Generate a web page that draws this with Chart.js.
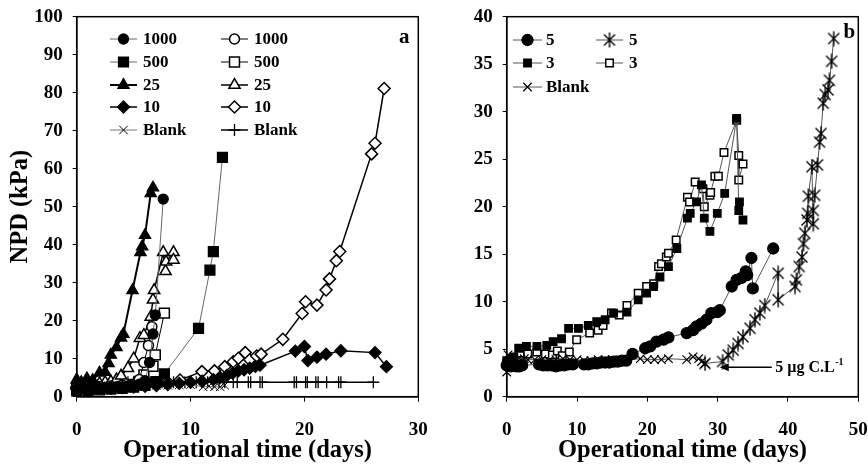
<!DOCTYPE html>
<html>
<head>
<meta charset="utf-8">
<script src="https://cdn.jsdelivr.net/npm/chart.js@4.4.1/dist/chart.umd.min.js"></script>
<style>
html, body { margin: 0; padding: 0; background: #fff; overflow: hidden; }
#wrap { position: relative; width: 868px; height: 464px; overflow: hidden; }
canvas { position: absolute; top: -10px; }
#chartA { left: 0; }
#chartB { left: 434px; }
</style>
</head>
<body>
<div id="wrap">
  <canvas id="chartA" width="434" height="474"></canvas>
  <canvas id="chartB" width="434" height="474"></canvas>
</div>
<script>
// ---- panel a ----
const c1000fDays = [0, 0.5, 1, 1.5, 2, 2.5, 3, 3.5, 4, 4.5, 5, 5.5, 6, 6.4, 6.7, 6.9, 7.6];
const c1000fVals = [2.0, 2.2, 2.0, 2.3, 2.2, 2.5, 2.4, 2.6, 2.6, 2.8, 3.0, 3.3, 4.2, 9, 16.5, 21.5, 52];
const c1000oDays = [0, 1, 2, 3, 4, 5, 5.5, 5.9, 6.3, 6.6];
const c1000oVals = [2.5, 2.6, 2.7, 2.8, 3.0, 3.3, 4.5, 9, 13.5, 18.4];
const s500fDays = [0, 1, 2, 3, 4, 5, 6, 7, 7.7, 10.7, 11.7, 12.0, 12.8];
const s500fVals = [1.5, 1.6, 1.8, 2.0, 2.2, 2.5, 3.0, 4.0, 6.0, 18, 33.3, 38.2, 63];
const s500oDays = [0, 1, 2, 3, 4, 5, 5.5, 5.9, 6.7, 6.9, 7.7];
const s500oVals = [2.0, 2.1, 2.3, 2.4, 2.7, 3.2, 4.0, 5.7, 8, 11, 22];
const t25fDays = [0, 0.4, 0.9, 1.4, 2.0, 2.5, 2.8, 3.0, 3.5, 3.9, 4.1, 4.9, 5.6, 5.75, 6.0, 6.5, 6.7];
const t25fVals = [4.5, 3.8, 4.8, 4.3, 6.3, 6.5, 8.8, 11, 13, 15.5, 16.5, 28, 38, 39.5, 42.5, 53.5, 55];
const t25oDays = [0, 0.5, 1, 1.5, 2, 2.5, 3, 3.5, 3.9, 4.5, 5.0, 5.55, 5.9, 6.5, 6.7, 6.8, 7.6, 7.8, 7.85, 8.5, 8.5];
const t25oVals = [3.0, 3.2, 3.0, 3.4, 3.5, 3.8, 4.0, 4.5, 5.5, 7.5, 10, 15.4, 16.2, 21, 25.5, 28, 38, 33, 35.5, 38, 36];
const d10fDays = [0, 1, 2, 3, 4, 5, 6, 7, 8, 9, 10, 11, 12, 12.6, 13.2, 13.7, 14.2, 14.7, 15.2, 15.7, 16.1, 19.2, 20.0, 20.3, 21.1, 21.9, 23.2, 26.2, 27.2];
const d10fVals = [2.0, 2.1, 2.2, 2.3, 2.4, 2.5, 2.7, 2.9, 3.2, 3.5, 3.8, 4.1, 4.5, 5.0, 5.6, 6.2, 6.8, 7.1, 7.5, 8.0, 8.3, 12, 13.2, 9.5, 10.4, 11.2, 12.1, 11.6, 7.9];
const d10oDays = [0, 1, 2, 3, 4, 5, 6, 7, 8, 9.07, 11, 12.1, 13.0, 13.75, 14.2, 14.8, 15.2, 15.8, 16.2, 18.1, 19.8, 20.1, 21.1, 21.9, 22.2, 22.8, 23.1, 25.9, 26.2, 27.0];
const d10oVals = [2.5, 2.6, 2.7, 2.8, 3.0, 3.1, 3.3, 3.5, 3.8, 4.4, 6.6, 6.8, 7.9, 9.2, 10.1, 11.6, 9.7, 10.7, 11.2, 15.1, 21.9, 25, 24.1, 28.1, 31, 35.8, 38.2, 63.9, 66.7, 81.1];
const blankXaDays = [0, 1, 2, 3, 4, 5, 6, 7, 8, 9, 10, 11.1, 11.6, 12.1, 12.6, 13];
const blankXaVals = [3.0, 2.8, 2.7, 2.8, 2.8, 2.9, 2.9, 3.0, 3.0, 3.1, 3.2, 2.6, 2.8, 2.6, 2.6, 3.0];
const blankPaDays = [0, 0.5, 1, 1.5, 2, 2.5, 3, 3.5, 4, 4.5, 5, 5.5, 6, 6.5, 7, 7.5, 8, 8.5, 9, 9.5, 10, 10.5, 11, 11.5, 12, 12.5, 13, 13.75, 14.1, 15.07, 15.28, 16.1, 16.3, 19.1, 19.3, 20.1, 20.25, 21.0, 21.2, 21.95, 23.0, 23.2, 26.05];
const blankPaVals = [3.5, 3.5, 3.6, 3.6, 3.6, 3.7, 3.7, 3.7, 3.7, 3.8, 3.8, 3.8, 3.8, 3.8, 3.8, 3.8, 3.8, 3.8, 3.8, 3.8, 3.8, 3.8, 3.8, 3.8, 3.8, 3.8, 3.8, 3.8, 3.8, 3.8, 3.8, 3.8, 3.8, 3.8, 3.8, 3.8, 3.8, 3.8, 3.8, 3.8, 3.8, 3.8, 3.8];

// ---- panel b ----
const c5fDays = [0, 0.3, 0.6, 1, 1.4, 1.8, 2.2, 4.6, 5.2, 5.8, 6.4, 7, 7.6, 8.2, 8.8, 9.4, 11, 11.6, 12.2, 12.8, 13.4, 14, 14.6, 15.2, 15.8, 16.4, 17, 17.9, 19.7, 20.4, 21.3, 22.3, 23, 25.6, 26.5, 27, 27.7, 28.4, 29.1, 29.95, 30.3, 32, 32.7, 33.4, 34, 34.2, 34.8, 35, 37.9];
const c5fVals = [3.3, 3.5, 3.2, 3.3, 3.2, 3.2, 3.3, 3.4, 3.3, 3.3, 3.3, 3.2, 3.3, 3.3, 3.4, 3.4, 3.4, 3.4, 3.5, 3.5, 3.6, 3.6, 3.6, 3.7, 3.7, 3.8, 3.8, 4.5, 5.1, 5.3, 5.8, 6.0, 6.25, 6.7, 7.0, 7.4, 7.7, 8.1, 8.8, 8.9, 9.1, 11.6, 12.3, 12.5, 13.2, 12.8, 14.6, 11.4, 15.6];
const s3fDays = [0, 0.5, 1, 1.7, 2.8, 4.3, 5.7, 6.6, 7.8, 8.8, 10.2, 11.6, 12.8, 14, 15.2, 17.1, 18.7, 19.9, 20.9, 21.8, 23, 24.2, 25.7, 26.1, 27, 27.7, 28.1, 28.9, 29.95, 31, 32.7, 33, 33.1, 33.6];
const s3fVals = [3.8, 4.0, 4.2, 5.1, 5.3, 5.3, 5.4, 5.8, 6.1, 7.2, 7.2, 7.5, 7.9, 8.1, 8.8, 8.9, 10.2, 10.9, 11.6, 12.6, 13.7, 15.6, 18.8, 19.3, 20.5, 22.3, 18.8, 17.4, 19.3, 21.4, 29.3, 19.6, 20.5, 18.6];
const s3oDays = [0, 0.5, 1, 1.9, 3, 4.3, 5.5, 6.5, 7.2, 7.9, 8.9, 9.95, 11.8, 13, 13.7, 14.9, 16, 17.1, 18.7, 19.9, 20.9, 21.6, 22, 22.7, 23, 24.1, 25.7, 26, 26.8, 27.9, 28.1, 28.9, 29, 29.6, 30.1, 30.9, 32.7, 33, 33, 33.6];
const s3oVals = [3.5, 3.7, 4.0, 4.6, 4.5, 4.7, 4.5, 4.4, 4.8, 4.3, 4.7, 6.0, 6.7, 7.0, 7.5, 8.8, 8.6, 9.6, 10.9, 11.6, 11.9, 13.7, 14.0, 14.7, 15.1, 16.5, 21, 20.5, 22.6, 21.9, 20, 21.2, 21.5, 23.2, 23.2, 25.7, 29.1, 25.4, 22.8, 24.5];
const blankXbDays = [0, 0.2, 0.6, 1, 1.5, 2, 2.5, 3, 4, 5, 6, 7, 8, 9, 10, 11, 12, 13, 14, 15, 16, 17, 19, 20, 21, 22, 23, 25.6, 26.5, 27.3, 27.7, 28.2];
const blankXbVals = [2.6, 4.4, 3.9, 4.0, 3.8, 3.9, 4.0, 3.9, 3.9, 3.9, 3.8, 3.9, 4.0, 3.9, 3.9, 3.8, 3.8, 3.9, 3.9, 3.9, 3.8, 3.9, 4.0, 3.9, 3.9, 3.9, 4.0, 3.9, 4.2, 4.0, 3.7, 3.5];
const star5Days = [28.2, 30.7, 31.5, 32.2, 32.9, 33.6, 34.6, 35.3, 36, 36.7, 38.6, 38.6, 41, 41.2, 41.6, 42, 42.2, 42.4, 42.7, 42.8, 42.9, 43.4, 43.6, 43.6, 43.8, 44.2, 44.5, 44.7, 45, 45.3, 45.7, 45.9, 46.2, 46.5];
const star5Vals = [3.5, 3.7, 4.4, 4.9, 5.6, 6.3, 7.2, 8.1, 8.8, 9.6, 13, 10.2, 11.6, 12.3, 13.7, 14.7, 16.1, 17.2, 18.6, 19.3, 21.1, 24.2, 18.2, 19.6, 21.2, 24.4, 26.8, 27.7, 30.9, 31.8, 32.3, 33.3, 35.3, 37.7];

// annotation arrow in panel b (days, kPa)
const arrowTip = [30.3, 3.1];
const arrowTailDay = 37.7;
const noteDay = 38.2;

const serif = '"Liberation Serif", "Times New Roman", serif';

function pts(days, vals) {
    return days.map((d, i) => ({ x: d, y: vals[i] }));
}

// asterisk marker: an X with a vertical bar
const asterisk = document.createElement('canvas');
asterisk.width = 16; asterisk.height = 16;
(function () {
    const g = asterisk.getContext('2d');
    g.strokeStyle = '#000';
    g.lineWidth = 1.4;
    g.beginPath();
    g.moveTo(2.5, 2.5); g.lineTo(13.5, 13.5);
    g.moveTo(13.5, 2.5); g.lineTo(2.5, 13.5);
    g.moveTo(8, 0.5); g.lineTo(8, 15.5);
    g.stroke();
})();

function series(label, days, vals, style) {
    return Object.assign({
        label: label,
        data: pts(days, vals),
        showLine: true,
        fill: false,
        tension: 0,
        clip: false,
        borderColor: '#000',
        borderWidth: 1,
        pointBorderColor: '#000',
        pointBorderWidth: 1.3,
        pointHoverRadius: 0
    }, style);
}

const filled = (ps, r) => ({ pointStyle: ps, pointRadius: r, pointBackgroundColor: '#000' });
const open = (ps, r) => ({ pointStyle: ps, pointRadius: r, pointBackgroundColor: '#fff', pointBorderWidth: 1.5 });

// custom legend drawn inside the plot, two columns (y given in page pixels)
function legendPlugin(id, entries, font) {
    return {
        id: id,
        afterDraw(chart) {
            const ctx = chart.ctx;
            ctx.save();
            ctx.translate(0, 10);
            entries.forEach(e => {
                const ds = chart.data.datasets[e.ds];
                ctx.strokeStyle = ds.borderColor;
                ctx.lineWidth = ds.borderWidth;
                ctx.beginPath();
                ctx.moveTo(e.x0, e.y);
                ctx.lineTo(e.x1, e.y);
                ctx.stroke();
                ctx.fillStyle = ds.pointBackgroundColor;
                ctx.strokeStyle = '#000';
                ctx.lineWidth = ds.pointBorderWidth;
                Chart.helpers.drawPoint(ctx, { pointStyle: ds.pointStyle, radius: ds.pointRadius, rotation: 0, borderWidth: ds.pointBorderWidth }, (e.x0 + e.x1) / 2, e.y);
                ctx.fillStyle = '#000';
                ctx.font = font;
                ctx.textBaseline = 'middle';
                ctx.textAlign = 'left';
                ctx.fillText(ds.label, e.tx, e.y + 1);
            });
            ctx.restore();
        }
    };
}

const framePlugin = {
    id: 'frame',
    afterDraw(chart) {
        const a = chart.chartArea, ctx = chart.ctx;
        ctx.save();
        ctx.strokeStyle = '#000';
        ctx.lineWidth = 1.5;
        ctx.strokeRect(a.left, a.top, a.right - a.left, a.bottom - a.top);
        ctx.restore();
    }
};

function letterPlugin(id, letter, dx, dy) {
    return {
        id: id,
        afterDraw(chart) {
            const a = chart.chartArea, ctx = chart.ctx;
            ctx.save();
            ctx.font = 'bold 21px ' + serif;
            ctx.fillStyle = '#000';
            ctx.textAlign = 'center';
            ctx.textBaseline = 'middle';
            ctx.fillText(letter, a.right - dx, a.top + dy);
            ctx.restore();
        }
    };
}

const arrowPlugin = {
    id: 'arrowNote',
    afterDraw(chart) {
        const ctx = chart.ctx, xs = chart.scales.x, ys = chart.scales.y;
        const tx = xs.getPixelForValue(arrowTip[0]);
        const ty = ys.getPixelForValue(arrowTip[1]);
        const ex = xs.getPixelForValue(arrowTailDay);
        ctx.save();
        ctx.strokeStyle = '#000';
        ctx.fillStyle = '#000';
        ctx.lineWidth = 1.5;
        ctx.beginPath();
        ctx.moveTo(tx + 6, ty);
        ctx.lineTo(ex, ty);
        ctx.stroke();
        ctx.beginPath();
        ctx.moveTo(tx, ty);
        ctx.lineTo(tx + 9, ty - 4);
        ctx.lineTo(tx + 9, ty + 4);
        ctx.closePath();
        ctx.fill();
        const nx = xs.getPixelForValue(noteDay);
        ctx.font = 'bold 16px ' + serif;
        ctx.textBaseline = 'middle';
        ctx.textAlign = 'left';
        const main = '5 \u00b5g C.L';
        ctx.fillText(main, nx, ty + 1);
        const w = ctx.measureText(main).width;
        ctx.font = 'bold 10px ' + serif;
        ctx.fillText('-1', nx + w + 0.5, ty - 5);
        ctx.restore();
    }
};

function axisOptions(xMax, yMax, yStep, yWidth, yTitle) {
    const titleFont = { family: serif, size: 24.5, weight: 'bold', lineHeight: 1 };
    return {
        x: {
            type: 'linear', min: 0, max: xMax,
            // tall line height pushes the labels down without widening the side padding
            ticks: { stepSize: 10, font: { family: serif, size: 19, weight: 'bold', lineHeight: 2.95 }, color: '#000', padding: 0 },
            grid: { display: true, drawOnChartArea: false, drawTicks: true, tickLength: 5, color: '#000', lineWidth: 1 },
            border: { display: true, color: '#000', width: 1.5 },
            title: { display: true, text: 'Operational time (days)', color: '#000', font: titleFont, padding: { top: 0, bottom: 1 } },
            afterFit(s) { s.height = 464 - 396.7; }
        },
        y: {
            type: 'linear', min: 0, max: yMax,
            ticks: { stepSize: yStep, font: { family: serif, size: 19, weight: 'bold' }, color: '#000', padding: 10 },
            grid: { display: true, drawOnChartArea: false, drawTicks: true, tickLength: 4, color: '#000', lineWidth: 1 },
            border: { display: true, color: '#000', width: 1.5 },
            title: { display: !!yTitle, text: yTitle || '', color: '#000', font: titleFont, padding: { top: 8, bottom: 0 } },
            afterFit(s) { s.width = yWidth; }
        }
    };
}

function baseOptions(scales, padRight) {
    return {
        responsive: false,
        animation: false,
        events: [],
        layout: { padding: { left: 0, top: 26.7, right: padRight, bottom: 0 } },
        plugins: { legend: { display: false }, tooltip: { enabled: false } },
        scales: scales
    };
}

// ---- chart a ----
const dsA = [
    series('1000', c1000fDays, c1000fVals, Object.assign(filled('circle', 5), { borderColor: '#666', borderWidth: 1 })),
    series('500', s500fDays, s500fVals, Object.assign(filled('rect', 7), { borderColor: '#666', borderWidth: 1 })),
    series('25', t25fDays, t25fVals, Object.assign(filled('triangle', 6.5), { borderWidth: 2 })),
    series('10', d10fDays, d10fVals, Object.assign(filled('rectRot', 6), { borderWidth: 1.5 })),
    series('Blank', blankXaDays, blankXaVals, { pointStyle: 'crossRot', pointRadius: 6, pointBackgroundColor: '#000', pointBorderWidth: 1, borderColor: '#777', borderWidth: 1 }),
    series('1000', c1000oDays, c1000oVals, Object.assign(open('circle', 5), { borderWidth: 1 })),
    series('500', s500oDays, s500oVals, Object.assign(open('rect', 7), { borderWidth: 1 })),
    series('25', t25oDays, t25oVals, Object.assign(open('triangle', 6.5), { borderWidth: 1.5 })),
    series('10', d10oDays, d10oVals, Object.assign(open('rectRot', 6), { borderWidth: 1.5 })),
    series('Blank', blankPaDays, blankPaVals, { pointStyle: 'cross', pointRadius: 6, pointBackgroundColor: '#000', pointBorderWidth: 1.3, borderWidth: 1.5 })
];
const rowsA = [39, 62, 85, 107, 130];
const legendA = [];
rowsA.forEach((y, i) => {
    legendA.push({ ds: i, x0: 110, x1: 137, tx: 143, y: y });
    legendA.push({ ds: i + 5, x0: 221, x1: 248, tx: 254, y: y });
});

new Chart(document.getElementById('chartA'), {
    type: 'scatter',
    data: { datasets: dsA },
    options: baseOptions(axisOptions(30, 100, 10, 76.7, 'NPD (kPa)'), 15.7),
    plugins: [framePlugin, legendPlugin('legendA', legendA, 'bold 17px ' + serif), letterPlugin('letterA', 'a', 14, 21)]
});

// ---- chart b ----
const dsB = [
    series('5', c5fDays, c5fVals, Object.assign(filled('circle', 5.5), { borderColor: '#555' })),
    series('3', s3fDays, s3fVals, Object.assign(filled('rect', 5.3), { borderColor: '#555' })),
    series('Blank', blankXbDays, blankXbVals, { pointStyle: 'crossRot', pointRadius: 6, pointBackgroundColor: '#000', pointBorderWidth: 1.2, borderColor: '#555' }),
    series('5', star5Days, star5Vals, { pointStyle: asterisk, pointRadius: 7, pointBackgroundColor: '#000', pointBorderWidth: 1.2, borderColor: '#555' }),
    series('3', s3oDays, s3oVals, Object.assign(open('rect', 5.3), { borderColor: '#555' }))
];
const legendB = [
    { ds: 0, x0: 79, x1: 108, tx: 112, y: 40 },
    { ds: 1, x0: 79, x1: 108, tx: 112, y: 63 },
    { ds: 2, x0: 79, x1: 108, tx: 112, y: 87 },
    { ds: 3, x0: 162, x1: 189, tx: 195, y: 40 },
    { ds: 4, x0: 162, x1: 189, tx: 195, y: 63 }
];

new Chart(document.getElementById('chartB'), {
    type: 'scatter',
    data: { datasets: dsB },
    options: baseOptions(axisOptions(50, 40, 5, 72.7, null), 9.7),
    plugins: [framePlugin, legendPlugin('legendB', legendB, 'bold 17px ' + serif), letterPlugin('letterB', 'b', 9, 16), arrowPlugin]
});
</script>
</body>
</html>
